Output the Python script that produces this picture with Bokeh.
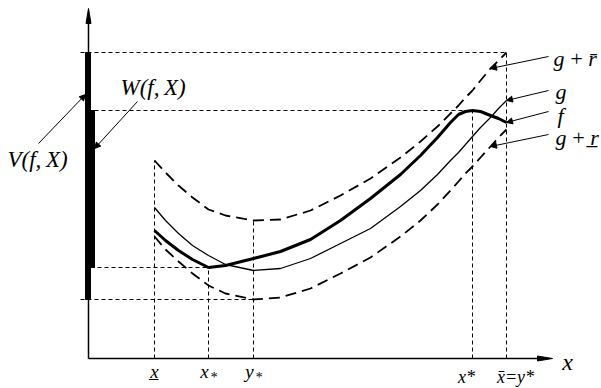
from bokeh.plotting import figure
from bokeh.models import Range1d, Arrow, NormalHead
from bokeh.core.properties import value
from bokeh.embed import file_html
from bokeh.resources import INLINE

# ---- data (arbitrary units; origin at the axes corner) ----
xs = [6.6, 7.7, 9.0, 10.4, 12.0, 13.7, 16.5, 19.2, 22.2, 25.2, 28.2, 31.2,
      33.2, 34.9, 36.2, 37.0, 37.7, 38.4, 39.2, 40.2, 41.0, 41.8]
g = [15.1, 13.8, 12.5, 11.3, 10.3, 9.4, 8.8, 9.0, 10.0, 11.5, 13.0, 15.2,
     16.8, 18.4, 19.8, 20.6, 21.4, 22.2, 23.1, 24.1, 25.0, 25.8]
f = [12.8, 11.8, 10.8, 9.9, 9.1, 9.3, 10.0, 10.7, 11.9, 13.8, 16.0, 18.4,
     20.3, 22.1, 23.6, 24.4, 24.7, 24.8, 24.7, 24.3, 24.0, 23.6]
g_r_hi = [19.8, 18.6, 17.3, 16.1, 14.9, 14.3, 13.8, 13.9, 14.8, 16.3, 18.0, 20.1,
          21.7, 23.2, 24.5, 25.3, 26.1, 26.8, 27.8, 29.0, 29.8, 30.6]
g_r_lo = [12.2, 10.9, 9.7, 8.5, 7.3, 6.5, 5.9, 6.1, 7.0, 8.5, 10.1, 12.2,
          13.8, 15.4, 16.8, 17.7, 18.5, 19.2, 20.1, 21.2, 22.1, 22.9]

X_AXIS_END = 46.4
Y_AXIS_END = 35.0

# derived key values
x_lo = xs[0]
x_bar = xs[-1]
i_fmin = f.index(min(f))
i_fmax = f.index(max(f))
i_gmin = g.index(min(g))
x_sub = xs[i_fmin]
y_sub = xs[i_gmin]
x_sup = xs[i_fmax]
W_lo, W_hi = min(f), max(f)
V_lo, V_hi = min(g_r_lo), max(g_r_hi)

FONT = value("Liberation Serif")

p = figure(width=601, height=388, x_range=Range1d(-8.8, 51.3),
           y_range=Range1d(-3.0, 35.8), output_backend="svg",
           toolbar_location=None, min_border=0)
p.axis.visible = False
p.grid.visible = False
p.outline_line_color = None
p.background_fill_color = "white"

# ---- guide lines (short dashes) ----
gd = dict(line_color="black", line_width=1, line_dash="4 3")
p.segment(x0=[-0.8, 0.6, 0.2, -0.8], y0=[V_hi, W_hi, W_lo, V_lo],
          x1=[x_bar, x_sup, x_sub, y_sub], y1=[V_hi, W_hi, W_lo, V_lo], **gd)
p.segment(x0=[x_lo, x_sub, y_sub, x_sup, x_bar], y0=[0, 0, 0, 0, 0],
          x1=[x_lo, x_sub, y_sub, x_sup, x_bar],
          y1=[g_r_hi[0], W_lo, g_r_hi[i_gmin], W_hi, V_hi], **gd)

# ---- axes ----
p.line([0, 0], [0, Y_AXIS_END - 1.0], line_color="black", line_width=1.5)
p.line([0, X_AXIS_END - 1.0], [0, 0], line_color="black", line_width=1.5)
p.patch([0, -0.25, 0.25], [Y_AXIS_END, Y_AXIS_END - 1.5, Y_AXIS_END - 1.5],
        color="black")
p.patch([X_AXIS_END, X_AXIS_END - 1.5, X_AXIS_END - 1.5], [0, 0.25, -0.25],
        color="black")

# ---- V and W bars ----
p.vbar(x=[-0.05], width=0.5, bottom=[V_lo], top=[V_hi], color="black")
p.vbar(x=[0.15], width=0.9, bottom=[W_lo], top=[W_hi], color="black")

# ---- curves ----
p.line(xs, g_r_hi, line_color="black", line_width=1.8, line_dash="11 6")
p.line(xs, g_r_lo, line_color="black", line_width=1.8, line_dash="11 6")
p.line(xs, g, line_color="black", line_width=1.3, line_join="round")
p.line(xs, f, line_color="black", line_width=3, line_join="round")

# ---- leader arrows ----
def leader(x0, y0, x1, y1):
    p.add_layout(Arrow(end=NormalHead(size=6, fill_color="black", line_color="black"),
                       x_start=x0, y_start=y0, x_end=x1, y_end=y1,
                       line_color="black", line_width=1))

leader(46.0, 30.2, xs[19], g_r_hi[19])
leader(46.0, 26.8, xs[-1], g[-1])
leader(46.0, 24.7, xs[-1], f[-1])
leader(46.0, 22.4, xs[19], g_r_lo[19])
leader(4.9, 25.7, 0.6, 21.0)
leader(-5.0, 21.5, -0.3, 26.4)

# ---- labels ----
tx = dict(text_font=FONT, text_font_style="italic", text_color="black",
          text_baseline="middle")
p.text(x=[46.5, 46.7, 46.9, 46.7], y=[30.0, 26.7, 24.3, 22.1],
       text=["g\u2009+\u2009r\u0304", "g", "f", "g\u2009+\u2009r\u0332"],
       text_align="left", text_font_size="22px", **tx)
p.text(x=[3.2, -8.1], y=[27.1, 19.9], text=["W(f,\u2009X)", "V(f,\u2009X)"],
       text_align="left", text_font_size="23px", **tx)
p.text(x=[47.9], y=[-0.3], text=["x"], text_align="center",
       text_font_size="24px", **tx)
p.text(x=[x_lo, x_sub - 0.4, y_sub - 0.4], y=[-1.3, -1.3, -1.3],
       text=["x\u0332", "x", "y"], text_align="center",
       text_font_size="19px", **tx)
p.text(x=[x_sub + 0.5, y_sub + 0.5], y=[-1.9, -1.9], text=["*", "*"],
       text_align="center", text_font_size="14px", **tx)
p.text(x=[x_sup - 0.6, x_bar + 0.9], y=[-1.8, -1.8],
       text=["x*", "x\u0304=y*"], text_align="center",
       text_font_size="18px", **tx)

open("out.html", "w").write(file_html(p, INLINE))
